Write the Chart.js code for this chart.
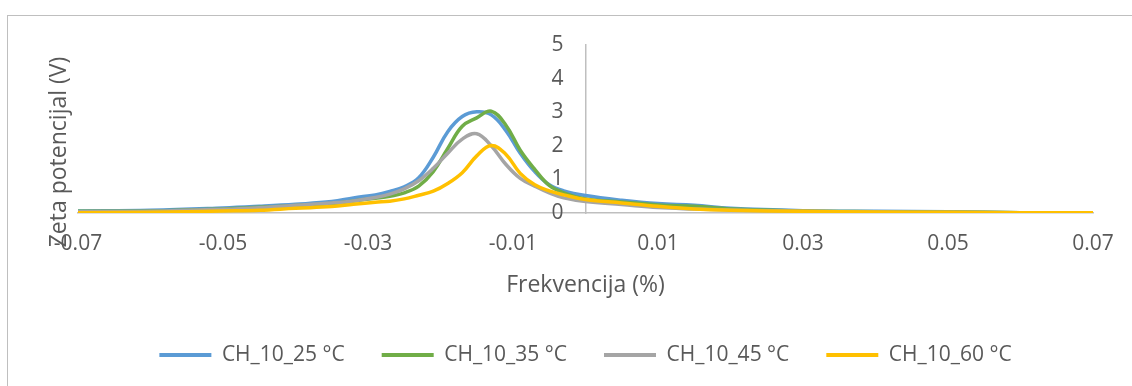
<!DOCTYPE html>
<html>
<head>
<meta charset="utf-8">
<script src="https://cdn.jsdelivr.net/npm/chart.js@4.4.1/dist/chart.umd.min.js"></script>
<style>
  body { margin: 0; background: #fff; }
  #wrap { position: relative; width: 1132px; height: 386px; overflow: hidden; }
  #frame { position: absolute; left: 7px; top: 15px; width: 1140px; height: 400px; border: 1px solid #bfbfbf; }
  #chart { position: absolute; left: 0; top: 0; }
</style>
</head>
<body>
<div id="wrap">
  <div id="frame"></div>
  <canvas id="chart" width="1132" height="386"></canvas>
</div>
<script>
/* ── data ── */
const xVals = [-0.07, -0.06, -0.05, -0.045, -0.04, -0.035, -0.032, -0.029, -0.027, -0.025,
  -0.023, -0.021, -0.019, -0.017, -0.015, -0.013, -0.011, -0.009, -0.007, -0.005,
  -0.003, 0, 0.005, 0.01, 0.015, 0.02, 0.03, 0.04, 0.05, 0.06, 0.07];

const ch25 = [0.06, 0.08, 0.15, 0.2, 0.26, 0.34, 0.45, 0.54, 0.64, 0.78,
  1.05, 1.66, 2.42, 2.87, 3.01, 2.92, 2.46, 1.78, 1.23, 0.84,
  0.66, 0.52, 0.38, 0.28, 0.23, 0.14, 0.07, 0.05, 0.04, 0.01, 0.01];

const ch35 = [0.05, 0.06, 0.12, 0.17, 0.22, 0.28, 0.36, 0.44, 0.5, 0.6,
  0.8, 1.23, 1.92, 2.58, 2.83, 3.03, 2.62, 1.87, 1.3, 0.82,
  0.6, 0.42, 0.33, 0.24, 0.2, 0.12, 0.06, 0.04, 0.03, 0.01, 0.01];

const ch45 = [0.04, 0.05, 0.11, 0.16, 0.23, 0.3, 0.36, 0.46, 0.56, 0.72,
  0.96, 1.33, 1.78, 2.2, 2.36, 2.0, 1.45, 1.03, 0.8, 0.6,
  0.45, 0.34, 0.25, 0.16, 0.12, 0.09, 0.05, 0.03, 0.02, 0.01, 0.0];

const ch60 = [0.01, 0.02, 0.06, 0.08, 0.14, 0.19, 0.26, 0.32, 0.35, 0.42,
  0.53, 0.65, 0.88, 1.2, 1.7, 2.01, 1.75, 1.18, 0.84, 0.66,
  0.54, 0.4, 0.3, 0.2, 0.12, 0.08, 0.05, 0.03, 0.02, 0.01, 0.01];

const seriesNames = ["CH_10_25 °C", "CH_10_35 °C", "CH_10_45 °C", "CH_10_60 °C"];
const xTicks = [-0.07, -0.05, -0.03, -0.01, 0.01, 0.03, 0.05, 0.07];
const xTitle = "Frekvencija (%)";
const yTitle = "Zeta potencijal (V)";

const COLORS = ["#5b9bd5", "#70ad47", "#a5a5a5", "#ffc000"];
const TEXT   = "#595959";
const FONT   = "'Open Sans', sans-serif";

const toPoints = (ys) => xVals.map((x, i) => ({ x, y: ys[i] }));

/* ── y title drawn by hand (axis sits in the middle) ── */
const yTitlePlugin = {
  id: "yTitle",
  afterDraw(chart) {
    const ctx = chart.ctx;
    ctx.save();
    ctx.translate(59, 152);
    ctx.rotate(-Math.PI / 2);
    ctx.font = "23px " + FONT;
    ctx.fillStyle = TEXT;
    ctx.textAlign = "center";
    ctx.textBaseline = "middle";
    ctx.fillText(yTitle, 0, 0);
    ctx.restore();
  },
};

new Chart(document.getElementById("chart"), {
  type: "line",
  data: {
    datasets: [ch25, ch35, ch45, ch60].map((ys, i) => ({
      label: seriesNames[i],
      data: toPoints(ys),
      borderColor: COLORS[i],
      backgroundColor: COLORS[i],
      borderWidth: 3.5,
      pointRadius: 0,
      tension: 0.4,
      order: 3 - i,
    })),
  },
  options: {
    responsive: false,
    animation: false,
    devicePixelRatio: 1,
    layout: { padding: { top: 45, left: 78, right: 39, bottom: 10.5 } },
    plugins: {
      tooltip: { enabled: false },
      legend: {
        position: "bottom",
        labels: {
          boxWidth: 52,
          boxHeight: 4,
          padding: 37,
          color: TEXT,
          font: { family: FONT, size: 21 },
          sort: (a, b) => a.datasetIndex - b.datasetIndex,
          generateLabels: (chart) =>
            Chart.defaults.plugins.legend.labels.generateLabels(chart).map((l) => ({
              ...l,
              fillStyle: l.strokeStyle,
              lineWidth: 0,
            })),
        },
      },
    },
    scales: {
      x: {
        type: "linear",
        min: -0.07,
        max: 0.07,
        afterBuildTicks: (axis) => { axis.ticks = xTicks.map((v) => ({ value: v })); },
        grid: { color: "transparent", drawTicks: false },
        border: { color: "#bfbfbf", width: 1.5 },
        ticks: {
          padding: 18,
          color: TEXT,
          font: { family: FONT, size: 21 },
          maxRotation: 0,
          autoSkip: false,
          callback: (v) => Number(v).toFixed(2),
        },
        title: {
          display: true,
          text: xTitle,
          color: TEXT,
          font: { family: FONT, size: 23 },
          padding: { top: -3, bottom: 8.7 },
        },
      },
      y: {
        // x range is symmetric, so "center" puts the axis at x = 0
        position: "center",
        min: 0,
        max: 5,
        grid: { color: "transparent", drawTicks: false },
        border: { color: "#bfbfbf", width: 1.5 },
        ticks: {
          stepSize: 1,
          padding: 22,
          color: TEXT,
          font: { family: FONT, size: 21 },
        },
      },
    },
  },
  plugins: [yTitlePlugin],
});
</script>
</body>
</html>
